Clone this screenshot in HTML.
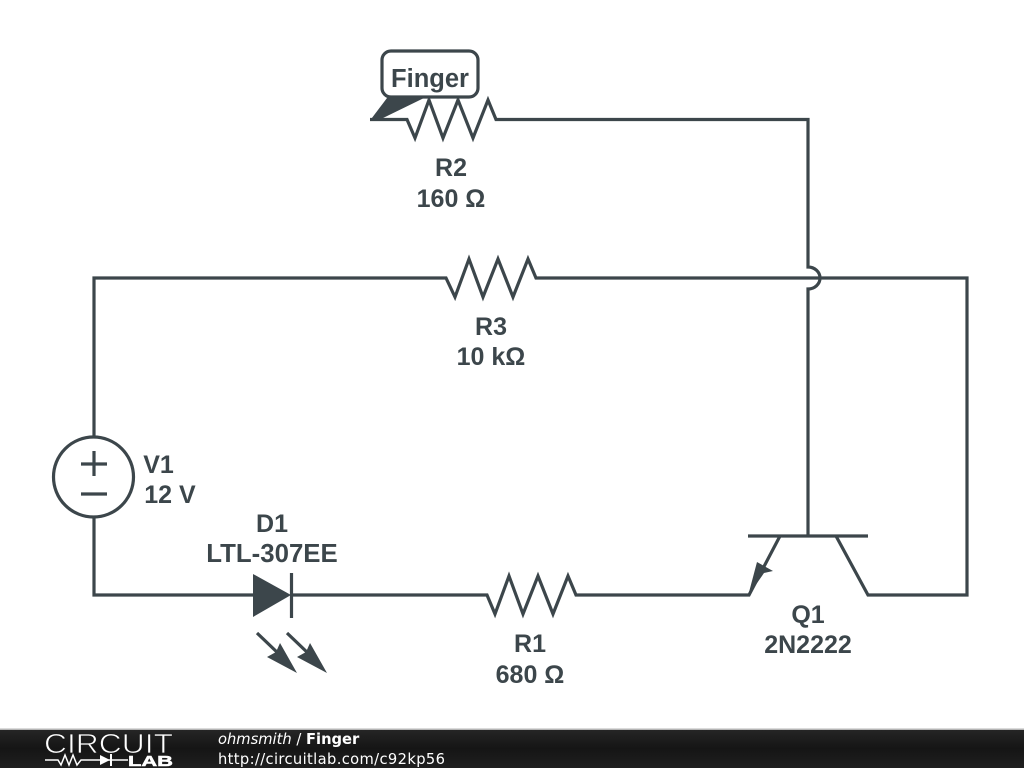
<!DOCTYPE html>
<html><head><meta charset="utf-8"><style>
html,body{margin:0;padding:0;background:#fff}
svg{display:block}
</style></head><body>
<svg width="1024" height="768" viewBox="0 0 1024 768" xmlns="http://www.w3.org/2000/svg">
<defs><linearGradient id="f" x1="0" y1="0" x2="0" y2="1"><stop offset="0" stop-color="#262626"/><stop offset="0.5" stop-color="#151515"/><stop offset="1" stop-color="#1f1f1f"/></linearGradient></defs>
<rect width="1024" height="768" fill="#fff"/>
<g fill="none" stroke="#3c464b" stroke-width="3.200" stroke-linejoin="miter">
<path d="M370 119.500H407L415 138L429 100L443 138L458 100L473 138L488 100L496 119.500H808V267A12 11 0 0 1 808 289V536"/>
<path d="M94 437V278H446L455 297L469 259L483 297L498 259L513 297L528 259L536 278H967V595H868L836 536"/>
<path d="M94 517V595H253M291 595H487L495 614L509 576L523 614L538 576L553 614L568 576L576 595H749L780 536"/>
<path d="M748 536H868"/>
<circle cx="93.500" cy="477" r="40"/>
<path d="M81 464H107M94 451V476M81 494H107"/>
<path d="M291.500 573V618"/>
<path d="M257 633L280 655M287 633L310 655"/>
<rect x="382" y="51" width="96" height="46" rx="9" fill="#fff"/>
</g>
<g fill="#3c464b">
<path d="M253 574L291 595L253 617Z"/>
<path d="M297 673L267 657L276 652L280 643Z"/>
<path d="M327 673L297 657L306 652L310 643Z"/>
<path d="M748 596L757 562L773 571L764 573Z"/>
<path d="M370 120.500L387 98H424L380 119.500Z"/>
</g>
<g font-family="'Liberation Sans',sans-serif" font-weight="bold" font-size="25" fill="#3c464b" text-anchor="middle">
<text x="430" y="87" font-size="25.500">Finger</text>
<text x="451" y="176">R2</text>
<text x="451" y="207">160 Ω</text>
<text x="491" y="335">R3</text>
<text x="491" y="365">10 kΩ</text>
<text x="158.500" y="473">V1</text>
<text x="170" y="503">12 V</text>
<text x="272" y="532">D1</text>
<text x="272" y="562" font-size="25.800">LTL-307EE</text>
<text x="530" y="652">R1</text>
<text x="530" y="683">680 Ω</text>
<text x="808" y="623">Q1</text>
<text x="808" y="653">2N2222</text>
</g>
<rect y="729" width="1024" height="39" fill="url(#f)"/>
<rect y="728.500" width="1024" height="1.500" fill="#b5b5b5"/>
<text x="44" y="753" font-family="'Liberation Sans',sans-serif" font-size="28" fill="#fff" textLength="129" lengthAdjust="spacingAndGlyphs" stroke="#1c1c1c" stroke-width="0.800">CIRCUIT</text>
<g fill="none" stroke="#fff" stroke-width="1.500">
<path d="M45 760H58L61 765L65 755L69 765L73 755L77 765L81 760H128"/>
</g>
<path d="M100 755L110 760L100 765Z" fill="#fff"/>
<path d="M111 754V766" stroke="#fff" stroke-width="2"/>
<text x="128" y="766" font-family="'Liberation Sans',sans-serif" font-weight="bold" font-size="15" fill="#fff" textLength="45" lengthAdjust="spacingAndGlyphs" stroke="#fff" stroke-width="0.500">LAB</text>
<g font-family="'DejaVu Sans',sans-serif" font-size="14.700" fill="#fff">
<text x="218" y="744"><tspan font-style="italic">ohmsmith</tspan> / <tspan font-weight="bold">Finger</tspan></text>
<text x="218" y="764" textLength="227">http://circuitlab.com/c92kp56</text>
</g>
</svg>
</body></html>
